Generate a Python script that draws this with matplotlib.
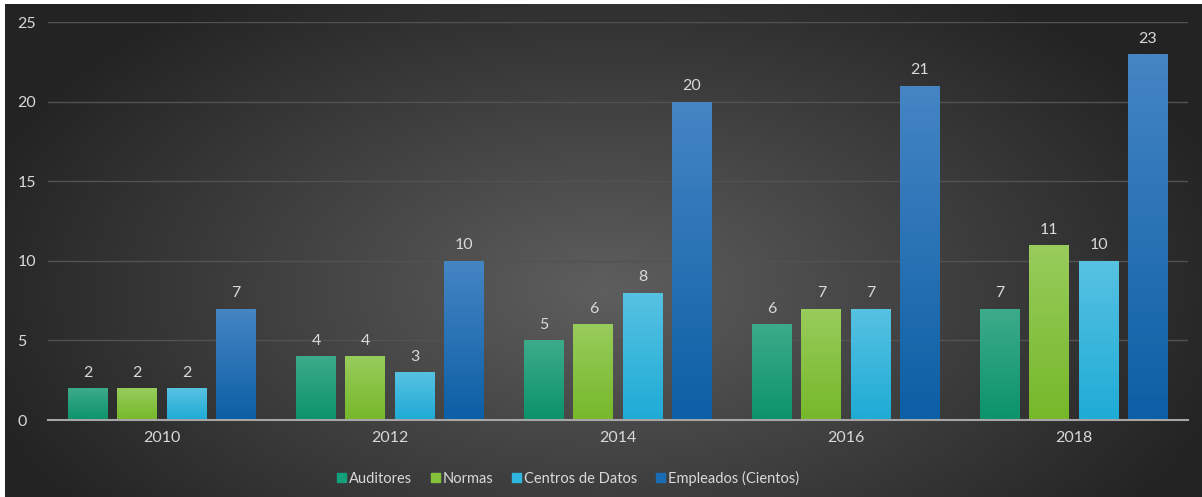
import numpy as np
import matplotlib
matplotlib.use("Agg")
import matplotlib.pyplot as plt
from matplotlib.colors import LinearSegmentedColormap, to_rgb

years = ["2010", "2012", "2014", "2016", "2018"]
series_names = ["Auditores", "Normas", "Centros de Datos", "Empleados (Cientos)"]
auditores = [2, 4, 5, 6, 7]
normas = [2, 4, 6, 7, 11]
centros = [2, 3, 8, 7, 10]
empleados = [7, 10, 20, 21, 23]
yticks = [0, 5, 10, 15, 20, 25]

series = [auditores, normas, centros, empleados]
top_colors = ["#3dab8a", "#98cc5c", "#57c2e2", "#4585c4"]
bot_colors = ["#0b936c", "#76b82a", "#1eabd6", "#0c5fa5"]
legend_colors = ["#14a07a", "#85c23c", "#2fb6de", "#1a6db5"]

plt.rcParams['font.family'] = ['Lato', 'DejaVu Sans']
txt = "#d9d9d9"
fs = 11.5

W, H = 1202, 497
fig = plt.figure(figsize=(W / 100, H / 100), dpi=100)
fig.patch.set_facecolor("white")

# radial gradient background
bg = fig.add_axes([5 / W, 0, 1 - 5 / W, 1 - 4 / H], zorder=-10)
yy, xx = np.mgrid[0:1:300j, 0:1:700j]
r = np.sqrt(((xx - 0.5) / 0.55) ** 2 + ((yy - 0.42) / 0.75) ** 2)
r = np.clip(r, 0, 1)
c_in = np.array(to_rgb("#5e5e5e"))
c_out = np.array(to_rgb("#232323"))
img = c_in[None, None, :] * (1 - r[..., None]) + c_out[None, None, :] * r[..., None]
bg.imshow(img, aspect="auto", extent=[0, 1, 0, 1], origin="lower")
bg.axis("off")

ax = fig.add_axes([48 / W, (H - 420) / H, 1140 / W, 398 / H])
ax.set_facecolor("none")
x = np.arange(len(years))
step = 0.216
bw = 0.175
offsets = (np.arange(4) - 1.5) * step

for i, (vals, name) in enumerate(zip(series, series_names)):
    bars = ax.bar(x + offsets[i], vals, width=bw, color=legend_colors[i], label=name, zorder=3)
    cmap = LinearSegmentedColormap.from_list("g%d" % i, [bot_colors[i], top_colors[i]])
    for b, v in zip(bars, vals):
        bx, by = b.get_x(), b.get_y()
        bwid, bh = b.get_width(), b.get_height()
        grad = np.linspace(0, 1, 100).reshape(-1, 1)
        im = ax.imshow(grad, cmap=cmap, aspect="auto", origin="lower",
                       extent=[bx, bx + bwid, by, by + bh], zorder=3.5)
        im.set_clip_path(b)
        ax.annotate(str(v), (bx + bwid / 2, by + bh), xytext=(0, 6),
                    textcoords="offset points", ha="center", va="bottom",
                    color=txt, fontsize=fs, zorder=5)

ax.set_xlim(-0.5, len(years) - 0.5)
ax.set_ylim(0, 25)
ax.set_yticks(yticks)
ax.set_xticks(x)
ax.set_xticklabels(years)
ax.tick_params(axis="both", length=0, colors=txt, labelsize=fs)
ax.tick_params(axis="y", pad=22)
ax.tick_params(axis="x", pad=8)
for lab in ax.get_yticklabels():
    lab.set_horizontalalignment("left")
ax.yaxis.grid(True, color="#525252", linewidth=1, zorder=0)
ax.set_axisbelow(True)
for s in ["top", "right", "left"]:
    ax.spines[s].set_visible(False)
ax.spines["bottom"].set_color("#a6a6a6")
ax.spines["bottom"].set_linewidth(1.5)
ax.spines["bottom"].set_zorder(6)

handles = [plt.Rectangle((0, 0), 1, 1, color=c) for c in legend_colors]
leg = fig.legend(handles, series_names, loc="center", bbox_to_anchor=(568 / W, 1 - 478 / H),
                 ncol=4, frameon=False, fontsize=10.5, labelcolor=txt,
                 handlelength=0.6, handleheight=0.6, handletextpad=0.2, columnspacing=1.3)

fig.savefig("out.png", dpi=100, facecolor=fig.get_facecolor())
